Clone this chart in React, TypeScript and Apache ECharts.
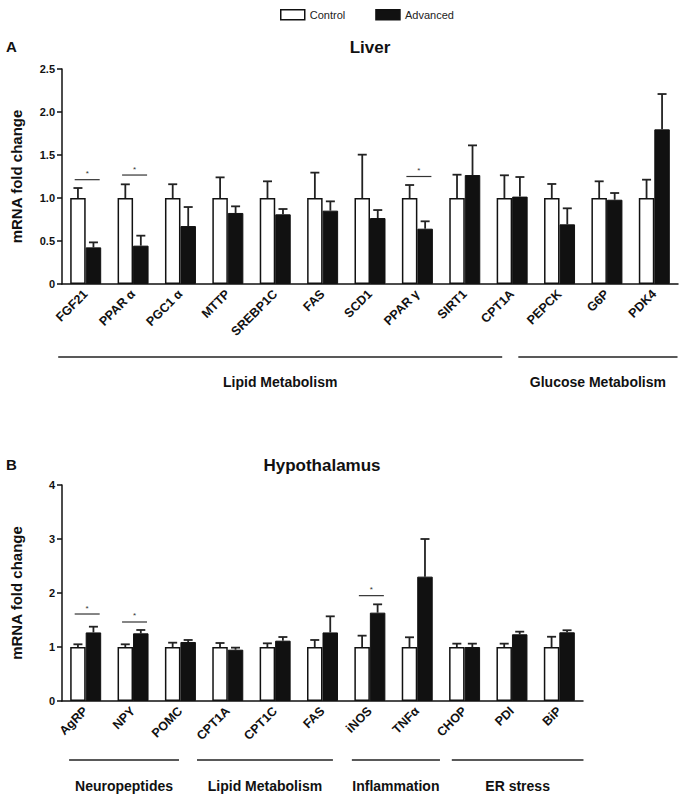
import React, { useEffect, useRef } from "react";
import * as echarts from "echarts";

// ---------- Data ----------
const liverGenes = ["FGF21", "PPAR α", "PGC1 α", "MTTP", "SREBP1C", "FAS", "SCD1", "PPAR γ", "SIRT1", "CPT1A", "PEPCK", "G6P", "PDK4"];
const liverControl = [1, 1, 1, 1, 1, 1, 1, 1, 1, 1, 1, 1, 1];
const liverControlTop = [1.116, 1.159, 1.16, 1.24, 1.194, 1.295, 1.504, 1.151, 1.271, 1.264, 1.163, 1.194, 1.213];
const liverAdvanced = [0.426, 0.446, 0.674, 0.826, 0.81, 0.853, 0.767, 0.643, 1.267, 1.016, 0.694, 0.98, 1.798];
const liverAdvancedTop = [0.484, 0.562, 0.895, 0.903, 0.872, 0.961, 0.86, 0.729, 1.612, 1.244, 0.88, 1.058, 2.209];
const liverSig = [[0, 1.213], [1, 1.267], [7, 1.25]];
const liverGroups = [
  { label: "Lipid Metabolism", from: -0.58, to: 8.79 },
  { label: "Glucose Metabolism", from: 9.13, to: 12.49 },
];
const liverTicks = [0, 0.5, 1.0, 1.5, 2.0, 2.5];

const hypoGenes = ["AgRP", "NPY", "POMC", "CPT1A", "CPT1C", "FAS", "iNOS", "TNFα", "CHOP", "PDI", "BiP"];
const hypoControl = [1, 1, 1, 1, 1, 1, 1, 1, 1, 1, 1];
const hypoControlTop = [1.05, 1.05, 1.08, 1.074, 1.068, 1.13, 1.21, 1.18, 1.062, 1.062, 1.19];
const hypoAdvanced = [1.27, 1.253, 1.093, 0.95, 1.117, 1.27, 1.636, 2.303, 1.0, 1.235, 1.272];
const hypoAdvancedTop = [1.376, 1.315, 1.13, 0.988, 1.185, 1.568, 1.79, 3.0, 1.062, 1.284, 1.31];
const hypoSig = [[0, 1.611], [1, 1.463], [6, 1.951]];
const hypoGroups = [
  { label: "Neuropeptides", from: -0.35, to: 1.97 },
  { label: "Lipid Metabolism", from: 2.35, to: 5.22 },
  { label: "Inflammation", from: 5.62, to: 7.48 },
  { label: "ER stress", from: 7.73, to: 10.51 },
];
const hypoTicks = [0, 1, 2, 3, 4];

// ---------- Styles ----------
const FONT = "'Liberation Sans', Arial, Helvetica, sans-serif";
const INK = "#111";
const BAR_W = 15.5;

export default function App() {
  const ref = useRef<HTMLDivElement>(null);

  useEffect(() => {
    document.body.style.margin = "0";
    if (!ref.current) return;
    const chart = echarts.init(ref.current, undefined, { renderer: "svg" });

    const errRender = (sign: number) => (params: any, api: any) => {
      const x = api.coord([api.value(0), 0])[0] + (sign * BAR_W) / 2;
      const yBase = api.coord([0, api.value(1)])[1];
      const yTop = api.coord([0, api.value(2)])[1];
      const st = { stroke: "#222", lineWidth: 1.8 };
      return {
        type: "group",
        children: [
          { type: "line", shape: { x1: x, y1: yBase, x2: x, y2: yTop }, style: st },
          { type: "line", shape: { x1: x - 4.5, y1: yTop, x2: x + 4.5, y2: yTop }, style: st },
        ],
      };
    };

    const sigRender = (params: any, api: any) => {
      const c = api.coord([api.value(0), api.value(1)]);
      const x1 = c[0] - 11;
      const x2 = c[0] + 14;
      return {
        type: "group",
        children: [
          { type: "line", shape: { x1, y1: c[1], x2, y2: c[1] }, style: { stroke: "#333", lineWidth: 1.2 } },
          {
            type: "text",
            style: { text: "*", x: (x1 + x2) / 2, y: c[1] - 2, align: "center", verticalAlign: "bottom", fontSize: 8, fontFamily: FONT, fill: "#333" },
          },
        ],
      };
    };

    const groupRender = (groups: any[], lineOff: number, textOff: number) => (params: any, api: any) => {
      const g = groups[params.dataIndex];
      const c0 = api.coord([0, 0]);
      const bw = api.size([1, 0])[0];
      const x1 = c0[0] + g.from * bw;
      const x2 = c0[0] + g.to * bw;
      return {
        type: "group",
        children: [
          { type: "line", shape: { x1, y1: c0[1] + lineOff, x2, y2: c0[1] + lineOff }, style: { stroke: "#222", lineWidth: 1.5 } },
          {
            type: "text",
            style: {
              text: g.label, x: (x1 + x2) / 2, y: c0[1] + textOff, align: "center", verticalAlign: "middle",
              fontSize: 14, fontWeight: "bold", fontFamily: FONT, fill: INK,
            },
          },
        ],
      };
    };

    const xAxisBase = (gridIndex: number, cats: string[]) => ({
      type: "category",
      gridIndex,
      data: cats,
      axisLine: { lineStyle: { color: INK, width: 1.5 } },
      axisTick: { alignWithLabel: true, length: 6, lineStyle: { color: INK, width: 1.5 } },
      axisLabel: { interval: 0, rotate: 45, fontSize: 12.5, fontWeight: "bold", fontFamily: FONT, color: INK, margin: 8 },
      splitLine: { show: false },
    });

    const yAxisBase = (gridIndex: number, ticks: number[], fmt: (v: number) => string) => ({
      type: "value",
      gridIndex,
      min: ticks[0],
      max: ticks[ticks.length - 1],
      interval: ticks[1] - ticks[0],
      name: "mRNA fold change",
      nameLocation: "middle",
      nameGap: 38,
      nameTextStyle: { fontSize: 15, fontWeight: "bold", fontFamily: FONT, color: INK },
      axisLine: { show: true, lineStyle: { color: INK, width: 1.5 } },
      axisTick: { show: true, length: 5, lineStyle: { color: INK, width: 1.5 } },
      axisLabel: { fontSize: 11, fontWeight: "bold", fontFamily: FONT, color: INK, margin: 7, formatter: fmt },
      splitLine: { show: false },
    });

    const panelSeries = (idx: number, ctrl: number[], ctrlTop: number[], adv: number[], advTop: number[], sig: number[][], groups: any[], lineOff: number, textOff: number) => [
      {
        name: "Control", type: "bar", xAxisIndex: idx, yAxisIndex: idx, data: ctrl, barWidth: BAR_W, barGap: "0%", z: 3,
        itemStyle: { color: "#fff", borderColor: INK, borderWidth: 1.5 },
      },
      {
        name: "Advanced", type: "bar", xAxisIndex: idx, yAxisIndex: idx, data: adv, barWidth: BAR_W, barGap: "0%", z: 3,
        itemStyle: { color: INK, borderColor: INK, borderWidth: 1 },
      },
      {
        type: "custom", xAxisIndex: idx, yAxisIndex: idx, renderItem: errRender(-1), z: 2, silent: true,
        data: ctrl.map((v, i) => [i, v, ctrlTop[i]]), encode: { x: 0, y: [1, 2] },
      },
      {
        type: "custom", xAxisIndex: idx, yAxisIndex: idx, renderItem: errRender(1), z: 2, silent: true,
        data: adv.map((v, i) => [i, v, advTop[i]]), encode: { x: 0, y: [1, 2] },
      },
      {
        type: "custom", xAxisIndex: idx, yAxisIndex: idx, renderItem: sigRender, z: 4, silent: true,
        data: sig, encode: { x: 0, y: 1 },
      },
      {
        type: "custom", xAxisIndex: idx, yAxisIndex: idx, renderItem: groupRender(groups, lineOff, textOff), z: 4, silent: true, clip: false,
        data: groups.map(() => [0, 0]), encode: { x: 0, y: 1 },
      },
    ];

    chart.setOption({
      animation: false,
      backgroundColor: "#fff",
      textStyle: { fontFamily: FONT },
      legend: {
        top: 4, left: 275, itemWidth: 24, itemHeight: 10, itemGap: 30, icon: "rect",
        data: ["Control", "Advanced"],
        textStyle: { fontSize: 11, color: "#222", fontFamily: FONT },
        itemStyle: { borderWidth: 1.5, borderColor: INK },
      },
      grid: [
        { left: 62, top: 69, width: 616, height: 215 },
        { left: 62, top: 485, width: 521, height: 216 },
      ],
      xAxis: [xAxisBase(0, liverGenes), xAxisBase(1, hypoGenes)],
      yAxis: [
        yAxisBase(0, liverTicks, (v: number) => (v === 0 ? "0" : v.toFixed(1))),
        yAxisBase(1, hypoTicks, (v: number) => String(v)),
      ],
      graphic: [
        { type: "text", left: 6, top: 39, style: { text: "A", fontSize: 15, fontWeight: "bold", fontFamily: FONT, fill: INK } },
        { type: "text", x: 370, y: 47, style: { text: "Liver", align: "center", verticalAlign: "middle", fontSize: 17, fontWeight: "bold", fontFamily: FONT, fill: INK } },
        { type: "text", left: 6, top: 457, style: { text: "B", fontSize: 15, fontWeight: "bold", fontFamily: FONT, fill: INK } },
        { type: "text", x: 322, y: 465, style: { text: "Hypothalamus", align: "center", verticalAlign: "middle", fontSize: 17, fontWeight: "bold", fontFamily: FONT, fill: INK } },
      ],
      series: [
        ...panelSeries(0, liverControl, liverControlTop, liverAdvanced, liverAdvancedTop, liverSig, liverGroups, 73, 98),
        ...panelSeries(1, hypoControl, hypoControlTop, hypoAdvanced, hypoAdvancedTop, hypoSig, hypoGroups, 59, 85),
      ],
    });

    return () => chart.dispose();
  }, []);

  return <div ref={ref} style={{ width: 680, height: 795 }} />;
}
